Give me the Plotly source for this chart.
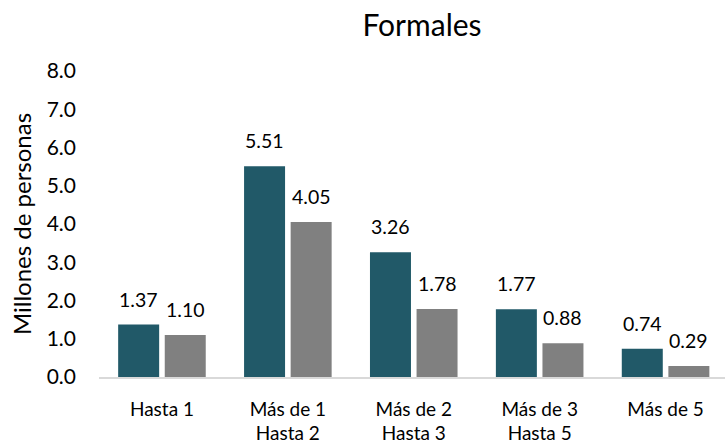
import plotly.graph_objects as go

categories = ["Hasta 1", "Más de 1<br>Hasta 2", "Más de 2<br>Hasta 3", "Más de 3<br>Hasta 5", "Más de 5"]
serie_a = [1.37, 5.51, 3.26, 1.77, 0.74]
serie_b = [1.10, 4.05, 1.78, 0.88, 0.29]
y_ticks = [0, 1, 2, 3, 4, 5, 6, 7, 8]

TEAL = "#215968"
GRAY = "#808080"
FONT = "Lato"
BARGAP = 0.26
BARGROUPGAP = 0.12

idx = list(range(len(categories)))

fig = go.Figure()
fig.add_trace(go.Bar(x=idx, y=serie_a, marker=dict(color=TEAL, line=dict(width=0)), name="A"))
fig.add_trace(go.Bar(x=idx, y=serie_b, marker=dict(color=GRAY, line=dict(width=0)), name="B"))

off = (1 - BARGAP) / 4
annotations = []
for i in idx:
    for v, d in ((serie_a[i], -off), (serie_b[i], off)):
        annotations.append(dict(x=i + d, y=v, xref="x", yref="y", text=f"{v:.2f}",
                                showarrow=False, yanchor="bottom", yshift=12,
                                font=dict(family=FONT, size=19.5, color="#000000")))

fig.update_layout(
    width=725, height=445,
    margin=dict(l=98.5, r=0, t=70.8, b=68.3),
    paper_bgcolor="white", plot_bgcolor="white",
    barmode="group", bargap=BARGAP, bargroupgap=BARGROUPGAP,
    showlegend=False,
    title=dict(text="Formales", x=422 / 725, xref="container", xanchor="center",
               y=1 - 25 / 445, yref="container", yanchor="middle",
               font=dict(family=FONT, size=30, color="#000000")),
    annotations=annotations,
    font=dict(family=FONT, color="#000000"),
)
fig.update_xaxes(
    type="linear", range=[-0.5, 4.472], tickmode="array", tickvals=idx, ticktext=categories,
    showgrid=False, zeroline=False, showline=True, linecolor="#D9D9D9", linewidth=1.5,
    ticks="", ticklabelstandoff=14, automargin=False,
    tickfont=dict(family=FONT, size=19, color="#000000"),
)
fig.update_yaxes(
    range=[0, 8], tickmode="array", tickvals=y_ticks, ticktext=[f"{t:.1f}" for t in y_ticks],
    showgrid=False, zeroline=False, showline=False, ticks="", ticklabelstandoff=22,
    automargin=False, tickfont=dict(family=FONT, size=21, color="#000000"),
    title=dict(text="Millones de personas", standoff=8, font=dict(family=FONT, size=24, color="#000000")),
)

fig.write_html("out.html", config={"displayModeBar": False},
               post_script="document.body.style.margin='0';document.body.style.overflow='hidden';")
